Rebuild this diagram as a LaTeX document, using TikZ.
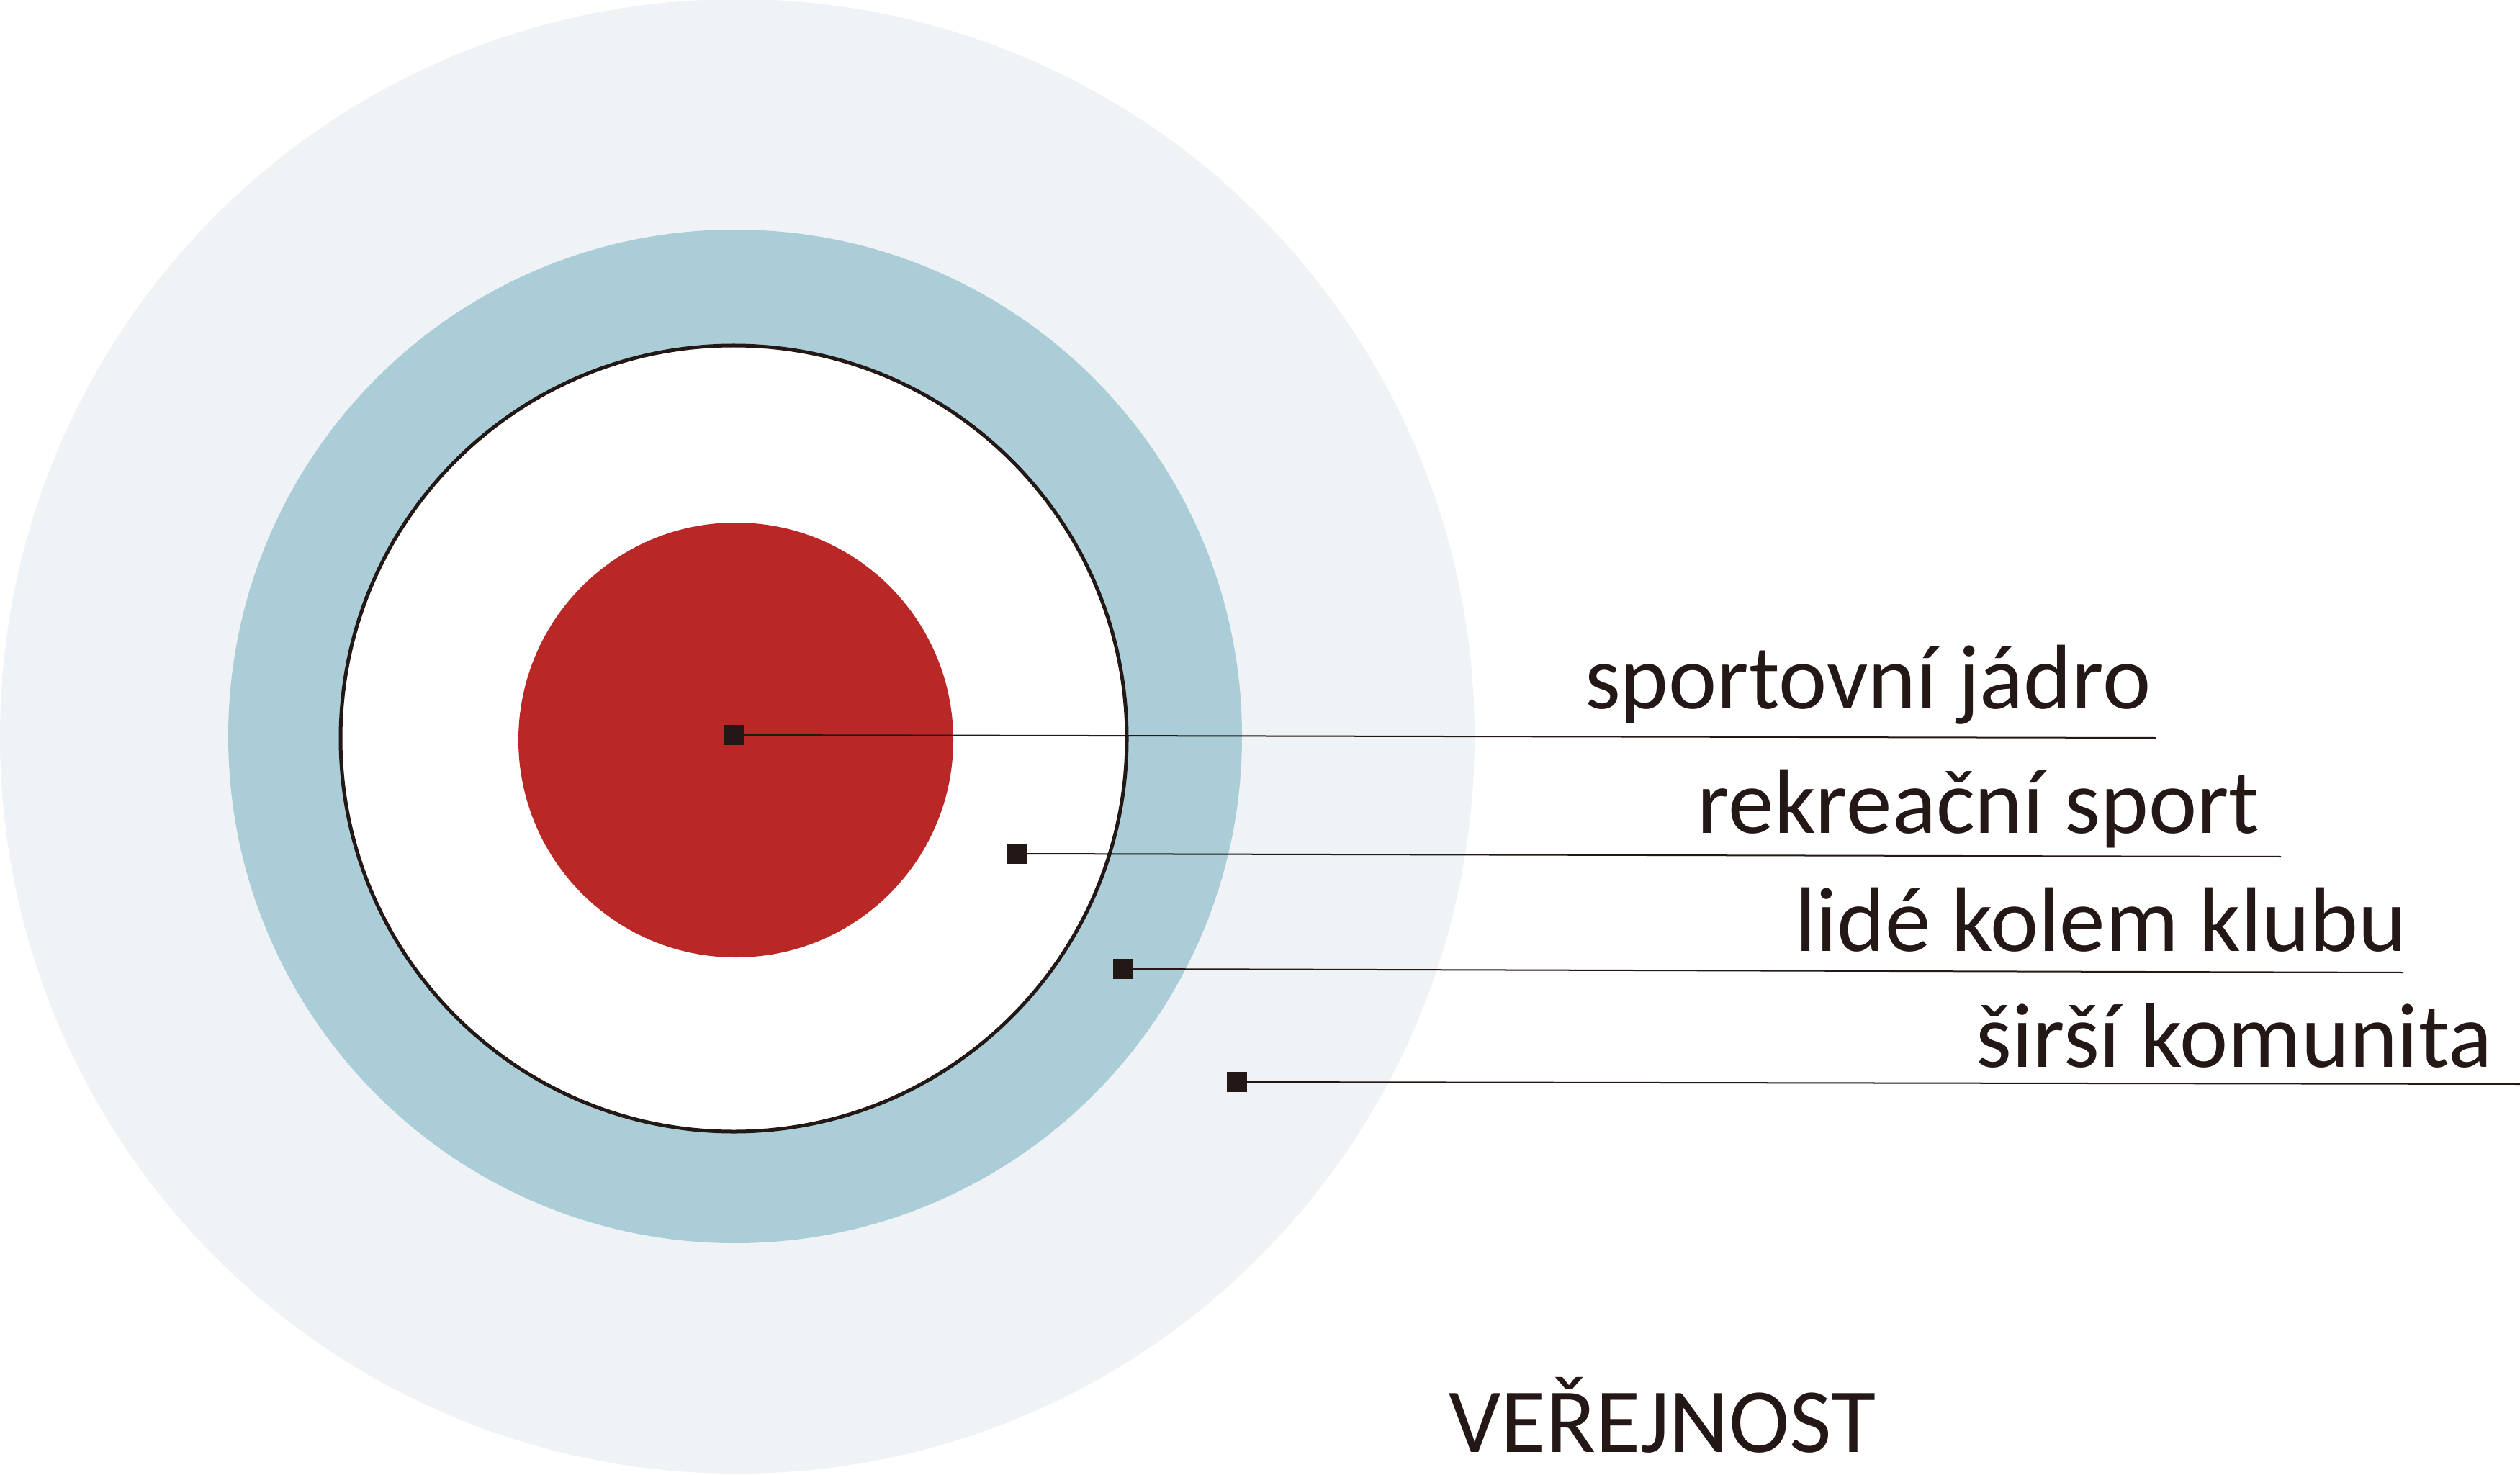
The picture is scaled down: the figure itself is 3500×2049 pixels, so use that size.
\documentclass[tikz,border=0pt]{standalone}
\usepackage{fontspec}
\setmainfont{Carlito}
\definecolor{publicc}{RGB}{239,243,246}
\definecolor{blueband}{RGB}{170,205,216}
\definecolor{corered}{RGB}{185,39,38}
\definecolor{inkc}{RGB}{35,24,21}
\begin{document}
\begin{tikzpicture}[x=0.01cm,y=-0.01cm,
  marker/.style={fill=inkc,draw=none,minimum size=0.28cm,inner sep=0pt,outer sep=0pt},
  leader/.style={draw=inkc,line width=0.02cm},
  lbl/.style={font=\fontsize{36.2}{43}\selectfont,text=inkc,inner sep=0pt,anchor=base east}]
\useasboundingbox[fill=white] (0,0) rectangle (3500,2049);
% rings
\fill[publicc] (1024,1023) circle[radius=1024];
\fill[blueband] (1021,1023) circle[radius=704];
\draw[fill=white,draw=inkc,line width=0.05cm] (1019,1026) circle[radius=546];
\fill[corered] (1022,1028) circle[radius=302];
% end points of leaders
\coordinate (e1) at (2994,1025);
\coordinate (e2) at (3168,1190);
\coordinate (e3) at (3338,1351);
\coordinate (e4) at (3500,1506);
% markers
\node[marker] (m1) at (1020,1021) {};
\node[marker] (m2) at (1413,1186) {};
\node[marker] (m3) at (1560,1346) {};
\node[marker] (m4) at (1718,1503) {};
% leaders
\draw[leader] (m1) -- (e1);
\draw[leader] (m2) -- (e2);
\draw[leader] (m3) -- (e3);
\draw[leader] (m4) -- (e4);
% labels
\node[lbl] (t1) at (2988,984) {sportovní jádro};
\node[lbl] (t2) at (3139,1157) {rekreační sport};
\node[lbl] (t3) at (3343,1321) {lidé kolem klubu};
\node[lbl] (t4) at (3462,1482) {širší komunita};
\node[lbl,anchor=base west] (t5) at (2012,2017) {VEŘEJNOST};
\end{tikzpicture}
\end{document}
